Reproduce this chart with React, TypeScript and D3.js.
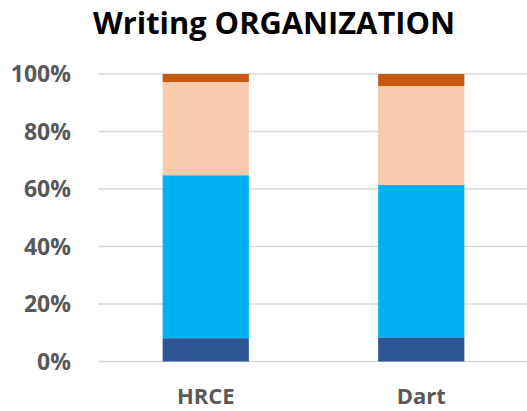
import React from "react";
import * as d3 from "d3";

const categories = ["HRCE", "Dart"];
const seriesNames = ["Level 1", "Level 2", "Level 3", "Level 4"];
const level1 = [8.1, 8.4];
const level2 = [56.7, 53.1];
const level3 = [32.4, 34.3];
const level4 = [2.8, 4.2];
const yTicks = [0, 20, 40, 60, 80, 100];
const colors = ["#2F5597", "#00B0F0", "#F8CBAD", "#C55A11"];

const W = 527;
const H = 411;

export default function App() {
  const rows = categories.map((c, i) => ({
    cat: c,
    "Level 1": level1[i],
    "Level 2": level2[i],
    "Level 3": level3[i],
    "Level 4": level4[i],
  }));
  const stacked = d3.stack<any>().keys(seriesNames)(rows);
  const x = d3
    .scaleBand<string>()
    .domain(categories)
    .range([98, 529])
    .paddingInner(0.6)
    .paddingOuter(0.3);
  const y = d3.scaleLinear().domain([0, 100]).range([361.5, 74]);
  const font = "'Open Sans', 'DejaVu Sans', sans-serif";

  return (
    <svg
      width={W}
      height={H}
      style={{ position: "absolute", left: 0, top: 0, background: "#fff" }}
    >
      <text
        x={274}
        y={34}
        textAnchor="middle"
        fontFamily={font}
        fontWeight="bold"
        fontSize={30}
        fill="#000"
        textLength={362}
        lengthAdjust="spacingAndGlyphs"
      >
        Writing ORGANIZATION
      </text>
      {yTicks.map((t) => (
        <g key={t}>
          <line
            x1={98}
            x2={527}
            y1={y(t)}
            y2={y(t)}
            stroke="#D9D9D9"
            strokeWidth={1.6}
          />
          <text
            x={71}
            y={y(t)}
            dy="0.36em"
            textAnchor="end"
            fontFamily={font}
            fontWeight="bold"
            fontSize={23}
            fill="#595959"
          >
            {t}%
          </text>
        </g>
      ))}
      {stacked.map((s, si) => (
        <g key={s.key} fill={colors[si]}>
          {s.map((d, i) => (
            <rect
              key={i}
              x={x(categories[i])!}
              width={x.bandwidth()}
              y={y(d[1])}
              height={y(d[0]) - y(d[1])}
            />
          ))}
        </g>
      ))}
      {categories.map((c) => (
        <text
          key={c}
          x={x(c)! + x.bandwidth() / 2}
          y={404}
          textAnchor="middle"
          fontFamily={font}
          fontWeight="bold"
          fontSize={22}
          fill="#595959"
        >
          {c}
        </text>
      ))}
    </svg>
  );
}
